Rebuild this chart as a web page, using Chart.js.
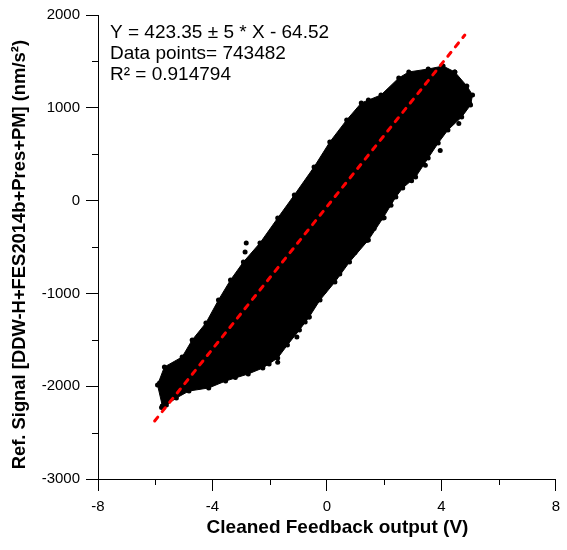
<!DOCTYPE html>
<html>
<head>
<meta charset="utf-8">
<script src="https://cdn.jsdelivr.net/npm/chart.js@4"></script>
<style>
  html, body { margin: 0; padding: 0; background: #fff; }
  canvas { display: block; }
</style>
</head>
<body>
<canvas id="scatterChart" width="567" height="550"></canvas>
<script>
// outline of the dense point cloud (clockwise from the bottom tip)
const cloudX = [-5.75, -5.92, -5.68, -5.06, -4.71, -4.23, -3.79, -3.37, -2.92, -2.34, -1.72, -1.14, -0.45, 0.10, 0.69, 1.20,
    1.89, 2.51, 2.86, 3.54, 4.06, 4.47, 4.89, 5.09, 5.02,
    4.71, 4.23, 3.89, 3.54, 3.10, 2.65, 2.41, 1.96, 1.45, 0.79, 0.28, -0.24, -0.62, -0.96, -1.38, -1.72, -2.24, -2.75,
    -3.54, -4.13, -4.82, -5.26, -5.61, -5.75];
const cloudY = [-2213, -1987, -1793, -1685, -1502, -1319, -1071, -856, -662, -457, -188, 60, 362, 631, 869, 1052,
    1138, 1321, 1386, 1418, 1450, 1386, 1235, 1138, 1030,
    901, 761, 621, 459, 254, 136, 39, -188, -425, -662, -877, -1071, -1254, -1394, -1556, -1696, -1804, -1868,
    -1944, -2019, -2052, -2127, -2202, -2213];

// loose points sitting outside the main cloud
const strayX = [-2.82, -2.86, -5.85, -1.72, -4.47, -0.62, -0.76, 1.39, 2.00, 4.47, 4.99, 1.45, -5.78,
    4.78, 4.61, 3.96, 3.44, 2.96, 2.24, 1.65, 0.98, 0.45, -0.10, -1.05, -2.02, -3.20];
const strayY = [-457, -554, -1966, -1741, -2008, -1254, -1308, -430, -185, 1386, 1050, 1085, -2230,
    975, 830, 540, 380, 215, -50, -300, -560, -790, -980, -1470, -1760, -1905];

// fitted line end points
const fitX = [-6.02, 4.82];
const fitY = [-2375, 1784];

const xMinor = [-6, -2, 2, 6];
const yMinor = [-2500, -1500, -500, 500, 1500];

const noteLines = ['Y = 423.35 \u00B1 5 * X - 64.52', 'Data points= 743482', 'R\u00B2 = 0.914794'];

const pts = (xs, ys) => xs.map((x, i) => ({ x: x, y: ys[i] }));

Chart.defaults.font.family = 'Arial, "Liberation Sans", sans-serif';
Chart.defaults.color = '#000';

const extras = {
    id: 'extras',
    afterDraw(chart) {
        const c = chart.ctx;
        const xs = chart.scales.x, ys = chart.scales.y;
        const area = chart.chartArea;
        c.save();
        c.strokeStyle = '#000';
        c.lineWidth = 1;
        c.beginPath();
        xMinor.forEach(v => {
            const px = Math.round(xs.getPixelForValue(v)) + 0.5;
            c.moveTo(px, area.bottom);
            c.lineTo(px, area.bottom + 6);
        });
        yMinor.forEach(v => {
            const py = Math.round(ys.getPixelForValue(v)) + 0.5;
            c.moveTo(area.left - 6, py);
            c.lineTo(area.left, py);
        });
        c.stroke();

        c.fillStyle = '#000';
        c.font = '19px Arial, "Liberation Sans", sans-serif';
        c.textBaseline = 'middle';
        noteLines.forEach((t, i) => c.fillText(t, 110, 33 + i * 21));
        c.restore();
    }
};

const config = {
    type: 'scatter',
    data: {
        datasets: [
            {
                label: 'fit',
                data: pts(fitX, fitY),
                showLine: true,
                borderColor: '#ff0000',
                borderWidth: 3,
                borderDash: [5, 7],
                borderCapStyle: 'round',
                pointRadius: 0,
                order: 0
            },
            {
                label: 'stray',
                data: pts(strayX, strayY),
                backgroundColor: '#000',
                borderColor: '#000',
                pointRadius: 2.5,
                borderWidth: 0,
                order: 1
            },
            {
                label: 'cloud',
                data: pts(cloudX, cloudY),
                showLine: true,
                fill: 'shape',
                tension: 0,
                backgroundColor: '#000',
                borderColor: '#000',
                borderWidth: 1,
                pointRadius: 2.5,
                pointBackgroundColor: '#000',
                pointBorderWidth: 0,
                order: 2
            }
        ]
    },
    options: {
        responsive: false,
        animation: false,
        layout: { padding: { top: 15, right: 4, left: 0, bottom: 0 } },
        plugins: {
            legend: { display: false },
            tooltip: { enabled: false }
        },
        scales: {
            x: {
                type: 'linear',
                min: -8,
                max: 8,
                ticks: { stepSize: 4, font: { size: 15 }, color: '#000', padding: 7, maxRotation: 0, callback: v => v },
                grid: { drawOnChartArea: false, tickLength: 12, color: '#000' },
                border: { color: '#000', width: 1 },
                title: {
                    display: true,
                    text: '    Cleaned Feedback output (V)',
                    font: { size: 19, weight: 'bold' },
                    color: '#000',
                    padding: { top: 0, bottom: 11 }
                },
                afterFit(scale) { scale.height = 71; }
            },
            y: {
                type: 'linear',
                min: -3000,
                max: 2000,
                ticks: { stepSize: 1000, font: { size: 15 }, color: '#000', padding: 6, callback: v => v },
                grid: { drawOnChartArea: false, tickLength: 12, color: '#000' },
                border: { color: '#000', width: 1 },
                title: {
                    display: true,
                    text: 'Ref. Signal [DDW-H+FES2014b+Pres+PM] (nm/s\u00B2)   ',
                    font: { size: 18.4, weight: 'bold' },
                    color: '#000',
                    padding: { top: 9, bottom: 0 }
                },
                afterFit(scale) { scale.width = 98; }
            }
        }
    },
    plugins: [extras]
};

const scatterChart = new Chart(document.getElementById('scatterChart').getContext('2d'), config);
</script>
</body>
</html>
